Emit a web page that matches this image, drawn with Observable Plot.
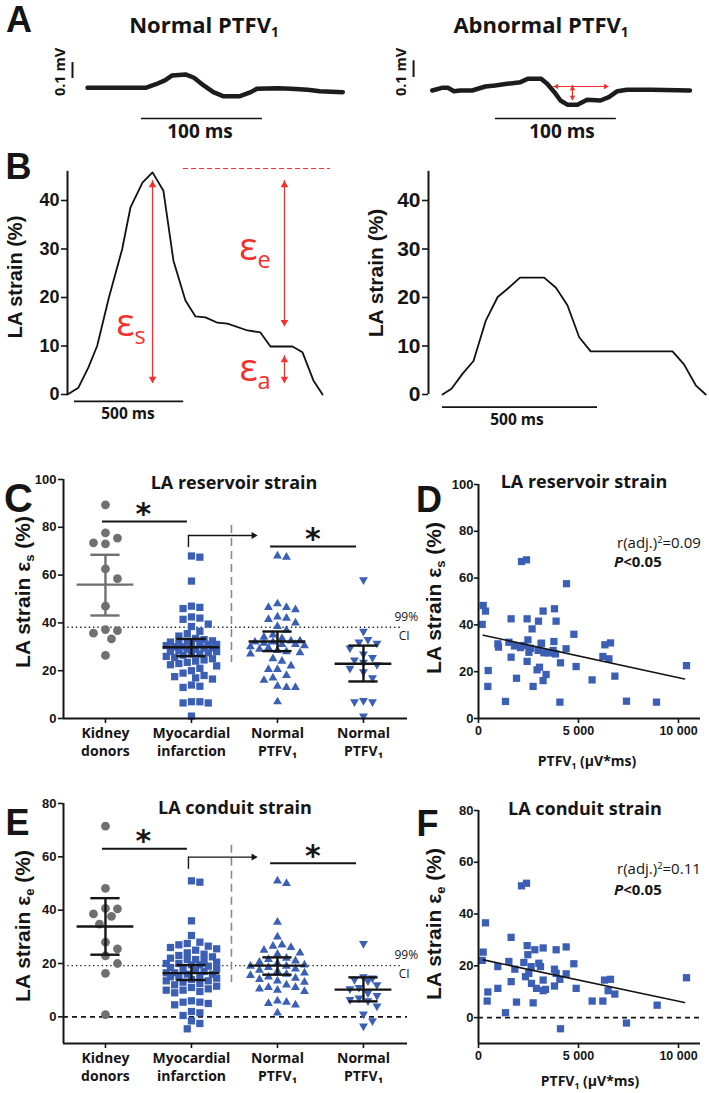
<!DOCTYPE html>
<html><head><meta charset="utf-8">
<script src="https://cdn.jsdelivr.net/npm/d3@7"></script>
<script src="https://cdn.jsdelivr.net/npm/@observablehq/plot@0.6"></script>
<style>
body{margin:0;background:#fff}
#fig{position:relative;width:709px;height:1093px;overflow:hidden;background:#fff}
.lbl{position:absolute;white-space:nowrap;line-height:1}
.lbl sub{font-size:0.62em;vertical-align:-0.32em;line-height:0}
.lbl sup{font-size:0.62em;vertical-align:0.45em;line-height:0}
</style></head><body><div id="fig"></div>
<script>
// ---------------- DATA ----------------
// Panel A: ECG traces (time ms, voltage µV)
const ecgNormalT = [0,48,56,64,70,81,88,96,104,112,126,135,140,157,168,182,192,211];
const ecgNormalV = [0,0,20,44,74,80,60,14,-26,-50,-50,-26,-6,-2,-6,-12,-20,-26];
const ecgAbnT = [0,8,13,18,23,33,44,52,62,73,79,90,95,101,106,112,120,128,139,146,153,161,181,213];
const ecgAbnV = [0,16,16,-4,0,0,24,30,40,50,70,70,40,-10,-60,-86,-86,-56,-60,-40,-4,4,4,0];
// Panel B: LA strain curves (time ms, strain %)
const strainNormT = [0,50,96,136,190,251,289,344,390,440,486,541,587,633,688,734,826,885,931,1032,1078,1128,1170];
const strainNormS = [0,1.4,5.6,10,20,30,38.6,43.7,45.8,42,27.6,19.4,16.1,15.9,14.8,14.6,13.2,12.8,9.9,9.9,8.7,2.9,0];
const strainAbnT = [0,29,65,100,140,178,210,250,328,366,403,441,478,742,779,817,849];
const strainAbnS = [0,1.2,4.3,6.9,15.3,20.1,21.8,24.1,24.1,22,18.4,11.8,8.9,8.9,6.2,1.9,0];
// Panel C: reservoir strain by group
const categories = ["Kidney\ndonors","Myocardial\ninfarction","Normal\nPTFV\u2081","Normal\nPTFV\u2081"];
const kidneyC = [89.4,77.7,73.1,73.5,75.5,62.6,58.5,47,37.2,36.8,35.7,33.3,26.4];
const miC = [68,67.5,57.5,47,46.5,46,42.5,42,41.5,39.5,38.5,36.5,35.5,34.5,33.5,33,32.5,32,32,31.5,31.5,31,31,30.5,30.5,30,30,29.5,29.5,29,29,28.5,28,28,27.5,27,27,26.5,26,25.5,25,24.5,24,23.5,23,22.5,22,21,20,19,18,17.5,17,16.5,14,13.5,13,7,7,6.5,6.5,1];
const normalC = [68,67.5,48,46.5,46.5,45.5,42.5,42,41.5,40,38.5,37,35,34,33.5,32.5,32.5,32,32,31.5,31,31,30.5,30,29.5,29,28.5,28,27.5,27,25,24,22,20.5,20.5,18,17,16,13.5,13,13,7];
const abnormalC = [58,36.5,33,32,31.5,29.5,27,25.5,24.5,23.5,22.5,21,19.5,17,7.5,7,7,1];
const meanC = [56,29.8,32.2,22.9];
const ciLoC = [43.1,26.1,28.2,15.5];
const ciHiC = [68.5,33.3,36.4,30.5];
const refCI_C = 38.2;
// Panel E: conduit strain by group
const kidneyE = [71.5,48.2,40.7,40.5,38.6,37.7,34.8,28,25.5,22.9,20,16.3,0.8];
const miE = [51,50.5,36,30.5,28,27.5,27,26.5,26,25.5,25,24,23.5,23,22.5,22,21.5,21.5,21,20.5,20,20,19.5,19.5,19,18.5,18,18,17.5,17,16.5,16.5,16,16,15.5,15,15,14.5,14,13.5,13.5,13,12.5,12,11.5,11,10.5,10,10,9.5,9,6,5.5,5.5,5,4.5,2,1.5,0.5,-1.5,-2.5,-4.5];
const normalE = [51,50,35.5,30,27,26.5,26,25,24,23.5,22,21.5,21,20.5,20,19.5,19,19,18.5,18,17.5,17,16.5,16,15.5,15,14.5,14,13.5,13,12,11,11,10.5,10,9.5,6,5.5,5,4.5,1.5];
const abnormalE = [27.5,15,14.5,14,13.5,12,11,10.5,9,8,7,6.5,6,4,1,-1.5,-3.5];
const meanE = [33.9,16.4,19.2,10.2];
const ciLoE = [23.3,13.8,15.8,5.8];
const ciHiE = [44.5,19.4,22.3,14.8];
const refCI_E = 19.2;
// Panel D: PTFV1 vs reservoir strain
const ptfvD = [235,350,183,2150,2400,4400,1630,2430,3000,3230,3800,3880,2680,4770,970,1520,2470,3150,3770,6320,6600,1630,2270,2520,2980,3130,3270,3730,3850,4380,2430,4100,485,2930,3050,3380,1900,3230,467,2730,4880,5680,6220,6520,6820,10400,1350,4070,7400,8900,2100,2600,1800,1000,3500];
const strainD = [48.3,45.9,40.2,67.1,67.8,57.6,42.6,42.6,41.6,45.9,46.9,41.6,38.3,36.0,31.9,32.6,33.6,32.2,32.9,31.5,32.3,26.2,31.2,28.3,29.1,31.9,28.1,29.1,27.6,29.8,24.4,23.8,20.5,20.8,21.9,18.8,17.2,16.2,13.7,13.7,22.2,16.5,26.5,25.5,18.1,22.6,7.3,7.0,7.4,7.0,30.3,30.0,31.0,30.5,28.0];
const fitD = [36.05, -0.001859]; // intercept, slope
// Panel F: PTFV1 vs conduit strain
const ptfvF = [350,1630,2150,2400,235,183,467,433,967,967,1350,1517,1633,1817,1900,2267,2350,2433,2467,2517,2633,2650,2733,2817,2900,3017,3100,3233,3233,3233,3350,3800,3800,3883,3883,4067,4100,4383,4383,4767,4883,5683,6217,6300,6483,6600,6817,7400,8933,10400];
const strainF = [36.6,31,50.9,51.9,25.3,22.1,9.9,6.4,19.7,11.3,1.9,21.7,13.9,18.7,6.0,21.3,15.8,27.8,24.3,17.1,19.7,13.2,5.7,26.2,11.3,21,19.7,26.9,14.5,10.4,10.9,18.7,12.2,26.2,17.1,14.8,-4.3,27.3,16.9,20.8,11.3,6.4,6.4,14.5,10.4,14.8,9.1,-2.1,4.8,15.4];
const fitF = [22.7, -0.00164];
const fitRange = [240, 10300];

// ---------------- HELPERS ----------------
const fig = document.getElementById("fig");
const ARIAL = "'Liberation Sans', Arial, sans-serif";
const CAL = "'Open Sans', Lato, sans-serif";
const RED = "#f5302c", BLUE = "#3b5fb5", GREY = "#707070", INK = "#151515";
const baseStyle = {background:"transparent", overflow:"visible", color:INK, fontFamily:ARIAL, fontWeight:"bold"};

function put(node, left, top){ node.style.position="absolute"; node.style.left=left+"px"; node.style.top=top+"px"; fig.appendChild(node); }
function label(html, x, y, o={}){
  const d=document.createElement("div"); d.className="lbl"; d.innerHTML=html;
  d.style.left=x+"px"; d.style.top=y+"px"; d.style.fontSize=(o.size||14)+"px";
  d.style.fontFamily=o.family||CAL; d.style.fontWeight=o.weight||"bold"; d.style.color=o.color||INK;
  let t = o.anchor==="start" ? "translate(0,-50%)" : "translate(-50%,-50%)";
  if(o.rotate) t+=` rotate(${o.rotate}deg)`;
  d.style.transform=t; fig.appendChild(d);
}
function heads(pts, r, fill){
  const off = 1.555*r;
  const cfg = {up:[0,0,off], down:[180,0,-off], left:[-90,off,0], right:[90,-off,0]};
  return Object.keys(cfg).map(k => Plot.dot(pts.filter(p=>p.dir===k), {x:"x", y:"y", symbol:"triangle", r, fill, stroke:"none", rotate:cfg[k][0], dx:cfg[k][1], dy:cfg[k][2]}));
}
// beeswarm offsets (layout only), limited to a half-width maxW in px
function swarm(vals, center, dpx, kx, ky, maxW){
  const idx = d3.range(vals.length).sort((a,b)=>d3.descending(vals[a],vals[b]));
  const placed=[], out=new Array(vals.length);
  for(const i of idx){
    const py=vals[i]*ky; let off=null, best=0, bestScore=-1;
    for(let k=0;k<400;k++){
      const c = k===0?0:(k%2===1?1:-1)*Math.ceil(k/2)*dpx/2;
      if(Math.abs(c)>maxW) break;
      const md = placed.length ? d3.min(placed, p=>(p.x-c)**2+(p.y-py)**2) : Infinity;
      if(md >= dpx*dpx*0.97){off=c;break;}
      if(md>bestScore){bestScore=md;best=c;}
    }
    if(off===null) off=best;
    placed.push({x:off,y:py}); out[i]={x:center+off/kx, y:vals[i]};
  }
  return out;
}

// ---------------- PANEL A ----------------
function ecg(T, V, ox, oy, w, h, extra){
  const kx=121/100, ky=167/1000;
  return Plot.plot({width:w, height:h, margin:0, style:baseStyle,
    x:{domain:[-ox/kx,(w-ox)/kx], axis:null}, y:{domain:[(oy-h)/ky, oy/ky], axis:null},
    marks:[Plot.line(T.map((t,i)=>({t,v:V[i]})), {x:"t", y:"v", stroke:"#1c1c1c", strokeWidth:4.5, strokeLinejoin:"round", strokeLinecap:"round"}), ...extra]});
}
put(ecg(ecgNormalT, ecgNormalV, 87, 47.3, 360, 110, [
  Plot.ruleX([-12.4], {y1:56, y2:151, stroke:INK, strokeWidth:2}),
  Plot.ruleY([-184], {x1:44.6, x2:144.6, stroke:INK, strokeWidth:1.6})
]), 0, 40);
put(ecg(ecgAbnT, ecgAbnV, 71.7, 50, 349, 110, [
  Plot.ruleX([-15.4], {y1:78, y2:178, stroke:INK, strokeWidth:2}),
  Plot.ruleY([-168], {x1:52.3, x2:152.2, stroke:INK, strokeWidth:1.6}),
  Plot.ruleY([24], {x1:100.2, x2:145.9, stroke:RED, strokeWidth:1.2}),
  Plot.ruleX([115.9], {y1:-60, y2:30, stroke:RED, strokeWidth:1.2}),
  ...heads([{x:100.2,y:24,dir:"left"},{x:145.9,y:24,dir:"right"},{x:115.9,y:30,dir:"up"},{x:115.9,y:-60,dir:"down"}], 2, RED)
]), 360, 40);

// ---------------- PANEL B ----------------
const bL = Plot.plot({width:360, height:290, marginLeft:67, marginRight:0, marginTop:0, marginBottom:36, style:baseStyle,
  x:{domain:[0,(360-67)/0.218], axis:null}, y:{domain:[0,254/4.85]},
  marks:[
    Plot.ruleX([0], {y1:0, y2:46, stroke:INK, strokeWidth:2}),
    Plot.axisY({ticks:[0,10,20,30,40], tickSize:6, tickPadding:2, fontSize:18, fontWeight:"bold", fontFamily:ARIAL, label:null, strokeWidth:1.6}),
    Plot.line(strainNormT.map((t,i)=>({t,s:strainNormS[i]})), {x:"t", y:"s", stroke:"#111", strokeWidth:1.8}),
    Plot.ruleY([-1.4], {x1:32, x2:533, stroke:INK, strokeWidth:1.8}),
    Plot.ruleY([46.6], {x1:532, x2:1206, stroke:RED, strokeWidth:1.1, strokeDasharray:"5,3"}),
    Plot.ruleX([390], {y1:2.3, y2:44.1, stroke:RED, strokeWidth:1.2}),
    Plot.ruleX([995], {y1:14, y2:44.1, stroke:RED, strokeWidth:1.2}),
    Plot.ruleX([995], {y1:2.3, y2:8, stroke:RED, strokeWidth:1.2}),
    ...heads([{x:390,y:44.1,dir:"up"},{x:390,y:2.3,dir:"down"},{x:995,y:44.1,dir:"up"},{x:995,y:14,dir:"down"},{x:995,y:8,dir:"up"},{x:995,y:2.3,dir:"down"}], 2.8, RED)
  ]});
put(bL, 0, 140);
const bR = Plot.plot({width:349, height:290, marginLeft:68, marginRight:0, marginTop:0, marginBottom:36, style:baseStyle,
  x:{domain:[-14/0.31,(349-82)/0.31], axis:null}, y:{domain:[0,254/4.85]},
  marks:[
    Plot.ruleX([-14/0.31], {y1:0, y2:46, stroke:INK, strokeWidth:2}),
    Plot.axisY({ticks:[0,10,20,30,40], tickSize:6, tickPadding:2, fontSize:21, fontWeight:"bold", fontFamily:ARIAL, label:null, strokeWidth:1.6}),
    Plot.line(strainAbnT.map((t,i)=>({t,s:strainAbnS[i]})), {x:"t", y:"s", stroke:"#111", strokeWidth:1.8}),
    Plot.ruleY([-2.6], {x1:0, x2:500, stroke:INK, strokeWidth:1.8})
  ]});
put(bR, 360, 140);

// ---------------- PANELS C & E ----------------
function groupPlot(groups, means, lo, hi, refCI, yDom, ticks, mTop, mBot, ann, kidneyBar){
  const H=300-(yDom[0]<0?2:0), kx=86, ky=(H-mTop-mBot)/(yDom[1]-yDom[0]);
  const syms=[["circle",4.4,GREY,0],["square",4.1,BLUE,0],["triangle",3.3,BLUE,0],["triangle",3.3,BLUE,180]];
  const dp=[12,8.4,9,9], mw=[13,28,28,17];
  const dots = groups.map((g,i)=>Plot.dot(swarm(g,i+1,dp[i],kx,ky,mw[i]), {x:"x", y:"y", symbol:syms[i][0], r:syms[i][1], fill:syms[i][2], stroke:"none", rotate:syms[i][3]}));
  const eb = means.map((m,i)=>({x:i+1, m, lo:lo[i], hi:hi[i], c: i===0?kidneyBar:INK}));
  const x0=0.512;
  return Plot.plot({width:420, height:H, marginLeft:63, marginRight:13, marginTop:mTop, marginBottom:mBot, style:baseStyle,
    x:{domain:[x0,4.512]}, y:{domain:yDom}, color:{type:"identity"},
    marks:[
      ...(yDom[0]<0?[Plot.ruleY([0], {x1:x0, x2:4.512, stroke:INK, strokeWidth:1.6, strokeDasharray:"5,4"})]:[]),
      Plot.ruleY([refCI], {x1:x0, x2:4.45, stroke:INK, strokeWidth:1.4, strokeDasharray:"1.3,3"}),
      Plot.text([refCI], {x:4.36, y:d=>d, text:()=>"99%", dy:-10, textAnchor:"start", fontFamily:CAL, fontWeight:"normal", fontSize:12}),
      Plot.text([refCI], {x:4.41, y:d=>d, text:()=>"CI", dy:9, textAnchor:"start", fontFamily:CAL, fontWeight:"normal", fontSize:12}),
      Plot.ruleX([2.465], {y1:ann.vTop, y2:ann.vBot, stroke:"#8a8a8a", strokeWidth:1.6, strokeDasharray:"8,5"}),
      ...dots,
      Plot.ruleY(eb, {y:"m", x1:d=>d.x-0.33, x2:d=>d.x+0.33, stroke:"c", strokeWidth:2.4}),
      Plot.ruleY(eb, {y:"lo", x1:d=>d.x-0.17, x2:d=>d.x+0.17, stroke:"c", strokeWidth:2.4}),
      Plot.ruleY(eb, {y:"hi", x1:d=>d.x-0.17, x2:d=>d.x+0.17, stroke:"c", strokeWidth:2.4}),
      Plot.ruleX(eb, {x:"x", y1:"lo", y2:"hi", stroke:"c", strokeWidth:2.4}),
      Plot.ruleY([ann.b1], {x1:0.965, x2:1.953, stroke:INK, strokeWidth:2}),
      Plot.ruleY([ann.b2], {x1:2.92, x2:3.92, stroke:INK, strokeWidth:2}),
      Plot.ruleX([1.965], {y1:ann.aLo, y2:ann.aHi, stroke:INK, strokeWidth:1.4}),
      Plot.ruleY([ann.aHi], {x1:1.965, x2:2.72, stroke:INK, strokeWidth:1.4}),
      ...heads([{x:2.77, y:ann.aHi, dir:"right"}], 2.6, INK),
      Plot.text([[1.44,ann.b1],[3.41,ann.b2]], {x:d=>d[0], y:d=>d[1], text:()=>"*", fontFamily:"'DejaVu Sans'", fontWeight:"bold", fontSize:30, dy:-7}),
      Plot.ruleX([x0], {stroke:INK, strokeWidth:2}),
      Plot.ruleY([yDom[0]], {x1:x0, x2:4.512, stroke:INK, strokeWidth:2}),
      Plot.axisY({ticks, tickSize:5, tickPadding:2, fontSize:13, fontWeight:"bold", fontFamily:ARIAL, label:null, strokeWidth:1.6}),
      Plot.axisX({ticks:[1,2,3,4], tickFormat:i=>categories[i-1], tickSize:5, tickPadding:2, fontSize:14, fontWeight:"bold", fontFamily:CAL, lineHeight:1.28, label:null, strokeWidth:1.6})
    ]});
}
put(groupPlot([kidneyC,miC,normalC,abnormalC], meanC, ciLoC, ciHiC, refCI_C, [0,100], [0,20,40,60,80,100], 9, 52,
  {vTop:80.8, vBot:23.4, b1:82.4, b2:72, aLo:71.5, aHi:76.6}, GREY), 0, 470);
put(groupPlot([kidneyE,miE,normalE,abnormalE], meanE, ciLoE, ciHiE, refCI_E, [-10,80], [0,20,40,60,80], 8, 50,
  {vTop:64.3, vBot:12.9, b1:63, b2:57.6, aLo:55.3, aHi:59.9}, INK), 0, 795);

// ---------------- PANELS D & F ----------------
function corrPlot(X, Y, fit, yDom, ticks, mTop, mBot){
  const H=300-(yDom[0]<0?2:0);
  const fitPts = fitRange.map(x=>({x, y:fit[0]+fit[1]*x}));
  return Plot.plot({width:299, height:H, marginLeft:68, marginRight:9, marginTop:mTop, marginBottom:mBot, style:baseStyle,
    x:{domain:[0,11100]}, y:{domain:yDom},
    marks:[
      ...(yDom[0]<0?[Plot.ruleY([0], {stroke:INK, strokeWidth:1.6, strokeDasharray:"5,4"})]:[]),
      Plot.dot(X.map((x,i)=>({x, y:Y[i]})), {x:"x", y:"y", symbol:"square", r:4.1, fill:BLUE, stroke:"none"}),
      Plot.line(fitPts, {x:"x", y:"y", stroke:INK, strokeWidth:1.6}),
      Plot.ruleX([0], {stroke:INK, strokeWidth:2}),
      Plot.ruleY([yDom[0]], {stroke:INK, strokeWidth:2}),
      Plot.axisY({ticks, tickSize:4, tickPadding:1, fontSize:13, fontWeight:"bold", fontFamily:ARIAL, label:null, strokeWidth:1.6}),
      Plot.axisX({ticks:[0,5000,10000], tickFormat:d=>d3.format(",")(d).replace(","," "), tickSize:5, tickPadding:3, fontSize:12.5, fontWeight:"bold", fontFamily:ARIAL, label:null, strokeWidth:1.6})
    ]});
}
put(corrPlot(ptfvD, strainD, fitD, [0,100], [0,20,40,60,80,100], 14, 52), 410, 470);
put(corrPlot(ptfvF, strainF, fitF, [-10,80], [0,20,40,60,80], 15, 50), 410, 795);

// ---------------- TEXT ----------------
const L = {size:36, family:ARIAL, weight:"bold"};
label("A", 19, 20, L); label("B", 18.5, 167, L); label("C", 18.5, 498, {...L,size:40});
label("D", 429, 500, L); label("E", 17.5, 823, L); label("F", 427.5, 824, L);
label("Normal PTFV<sub>1</sub>", 204, 24, {size:22});
label("Abnormal PTFV<sub>1</sub>", 541, 24, {size:22});
label("0.1 mV", 60, 72, {size:14.5, rotate:-90});
label("0.1 mV", 401, 72, {size:14.5, rotate:-90});
label("100 ms", 200, 131, {size:19});
label("100 ms", 562, 131, {size:19});
label("500 ms", 128, 414, {size:15.5});
label("500 ms", 517, 420, {size:15.5});
label("LA strain (%)", 15, 277, {size:20, family:ARIAL, rotate:-90});
label("LA strain (%)", 375, 273, {size:21, family:ARIAL, rotate:-90});
const E = {size:38, family:CAL, weight:"normal", color:RED};
label("ε<sub>s</sub>", 131, 321, E);
label("ε<sub>e</sub>", 255, 245, E);
label("ε<sub>a</sub>", 255, 366, E);
label("LA reservoir strain", 234, 482, {size:18});
label("LA reservoir strain", 584, 481, {size:18});
label("LA conduit strain", 235, 807, {size:18});
label("LA conduit strain", 585, 808, {size:18});
label("LA strain ε<sub>s</sub> (%)", 22, 592, {size:21, family:ARIAL, rotate:-90});
label("LA strain ε<sub>s</sub> (%)", 433, 598, {size:21, family:ARIAL, rotate:-90});
label("LA strain ε<sub>e</sub> (%)", 22, 926, {size:21, family:ARIAL, rotate:-90});
label("LA strain ε<sub>e</sub> (%)", 433, 924, {size:21, family:ARIAL, rotate:-90});
label("PTFV<sub>1</sub> (µV*ms)", 587, 761, {size:14});
label("PTFV<sub>1</sub> (µV*ms)", 590, 1081, {size:14});
label("r(adj.)<sup>2</sup>=0.09", 617, 542, {size:15, weight:"normal", anchor:"start"});
label("<i>P</i>&lt;0.05", 614, 561, {size:15, anchor:"start"});
label("r(adj.)<sup>2</sup>=0.11", 617, 868, {size:15, weight:"normal", anchor:"start"});
label("<i>P</i>&lt;0.05", 614, 889, {size:15, anchor:"start"});
</script></body></html>
